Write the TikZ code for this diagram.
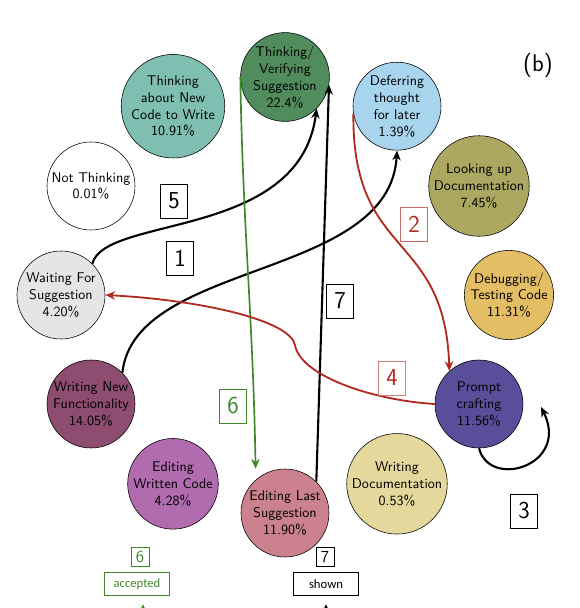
\documentclass[tikz,border=0pt]{standalone}
\usepackage{fontspec}
\usepackage{xcolor}
\usepackage{tikz}
\usetikzlibrary{arrows.meta}

\newfontfamily\tagfont{Carlito}

\definecolor{cverify}{RGB}{80,140,92}
\definecolor{cnewcode}{RGB}{127,191,178}
\definecolor{cdefer}{RGB}{168,212,238}
\definecolor{cwait}{RGB}{229,229,229}
\definecolor{clookup}{RGB}{172,168,98}
\definecolor{cdebug}{RGB}{228,190,100}
\definecolor{cwritenew}{RGB}{142,77,112}
\definecolor{cprompt}{RGB}{88,78,154}
\definecolor{ceditwritten}{RGB}{176,108,174}
\definecolor{cwritedoc}{RGB}{228,216,156}
\definecolor{ceditlast}{RGB}{204,130,142}
\definecolor{edgered}{RGB}{176,42,32}
\definecolor{edgegreen}{RGB}{62,136,44}

\begin{document}
\begin{tikzpicture}[>={Stealth[length=7pt,width=6pt]}, font=\sffamily,
		act/.style={circle, draw, thin, minimum size=2.2cm, inner sep=0pt, align=center},
		flow/.style={->, line width=1.5pt},
		redflow/.style={->, draw=edgered, line width=1.3pt},
		greenflow/.style={->, draw=edgegreen, line width=1.2pt},
		num/.style={draw, thin, font=\sffamily\LARGE, minimum width=19pt, minimum height=24pt, inner sep=0pt},
		smallnum/.style={draw, thin, font=\sffamily\large, minimum width=13pt, minimum height=13.5pt, inner sep=0pt},
		tag/.style={draw, thin, font=\tagfont\small, minimum width=46pt, minimum height=16pt, inner sep=0pt},
		tagin/.style={-{Stealth[length=5pt,width=4.5pt]}, thin, shorten >=0.22cm}]
		\useasboundingbox (-7.125,-7.825) rectangle (7.375,7.375);

		% activities round the ring
		\node[act, fill=cverify] (verify) at (90:5.6cm and 5.45cm) {Thinking/\\Verifying\\Suggestion\\22.4\%};
		\node[act, fill=cdefer] (defer) at (60:5.6cm and 5.45cm) {Deferring\\thought\\for later\\1.39\%};
		\node[act, fill=clookup] (lookup) at (30:5.6cm and 5.45cm) {Looking up\\Documentation\\7.45\%};
		\node[act, fill=cdebug] (debug) at (0:5.6cm and 5.45cm) {Debugging/\\Testing Code\\11.31\%};
		\node[act, fill=cprompt] (prompt) at (-30:5.6cm and 5.45cm) {Prompt\\crafting\\11.56\%};
		\node[act, fill=cwritedoc] (writedoc) at (-60:5.6cm and 5.45cm) {Writing\\Documentation\\0.53\%};
		\node[act, fill=ceditlast] (editlast) at (-90:5.6cm and 5.45cm) {Editing Last\\Suggestion\\11.90\%};
		\node[act, fill=ceditwritten] (editwritten) at (-120:5.6cm and 5.45cm) {Editing\\Written Code\\4.28\%};
		\node[act, fill=cwritenew] (writenew) at (-150:5.6cm and 5.45cm) {Writing New\\Functionality\\14.05\%};
		\node[act, fill=cwait] (waiting) at (180:5.6cm and 5.45cm) {Waiting For\\Suggestion\\4.20\%};
		\node[act, fill=white] (notthink) at (150:5.6cm and 5.45cm) {Not Thinking\\0.01\%};
		\node[act, fill=cnewcode] (newcode) at (120:5.6cm and 5.45cm) {Thinking\\about New\\Code to Write\\10.91\%};

		\node[font=\sffamily\LARGE] (panel) at (6.325,5.75) {(b)};

		% transitions
		\draw[flow] (writenew.45) .. controls (-3.75,0.875) and (2.625,0.375) .. (defer.south);
		\draw[flow] (waiting.45) .. controls (-4.5,2.0) and (0.375,1.375) .. (verify.-45);
		\draw[flow] (editlast.45) -- (verify.-10);
		\draw[greenflow] (verify.west) to[out=-89,in=91] ([shift={(-0.1,0.2)}]editlast.125);
		\draw[redflow] (defer.190) .. controls (1.675,0.875) and (4.0,1.625) .. (prompt.132);
		\coordinate (kink4) at (0.25,-1.25);
		\draw[redflow] (prompt.west) .. controls (2.125,-2.625) and (0.375,-2.0) .. (kink4)
			.. controls (0.125,-0.625) and (-2.125,-0.125) .. (waiting.east);
		\coordinate (loop3) at (6.4,-2.8);
		\draw[flow] (prompt.-90) .. controls (5.125,-4.875) and (7.125,-4.25) .. (loop3);

		% step numbers
		\node[num] (n5) at (-2.775,2.35) {5};
		\node[num] (n1) at (-2.625,0.925) {1};
		\node[num] (n7) at (1.375,-0.15) {7};
		\node[num, draw=edgered!70, text=edgered] (n2) at (3.225,1.775) {2};
		\node[num, draw=edgered!60, text=edgered] (n4) at (2.675,-2.075) {4};
		\node[num, draw=edgegreen, text=edgegreen] (n6) at (-1.3,-2.775) {6};
		\node[num] (n3) at (5.975,-5.4) {3};

		% bottom tags
		\node[smallnum, draw=edgegreen, text=edgegreen] (s6) at (-3.625,-6.55) {6};
		\node[tag, draw=edgegreen, text=edgegreen] (accepted) at (-3.7,-7.225) {accepted};
		\node[smallnum] (s7) at (1.0,-6.55) {7};
		\node[tag] (shown) at (1.025,-7.225) {shown};
		\coordinate (accin) at (-3.55,-8.4);
		\coordinate (shownin) at (1.025,-8.4);
		\draw[tagin, draw=edgegreen, fill=edgegreen] (accin) -- (accepted.south -| accin);
		\draw[tagin] (shownin) -- (shown.south -| shownin);
	\end{tikzpicture}
\end{document}
